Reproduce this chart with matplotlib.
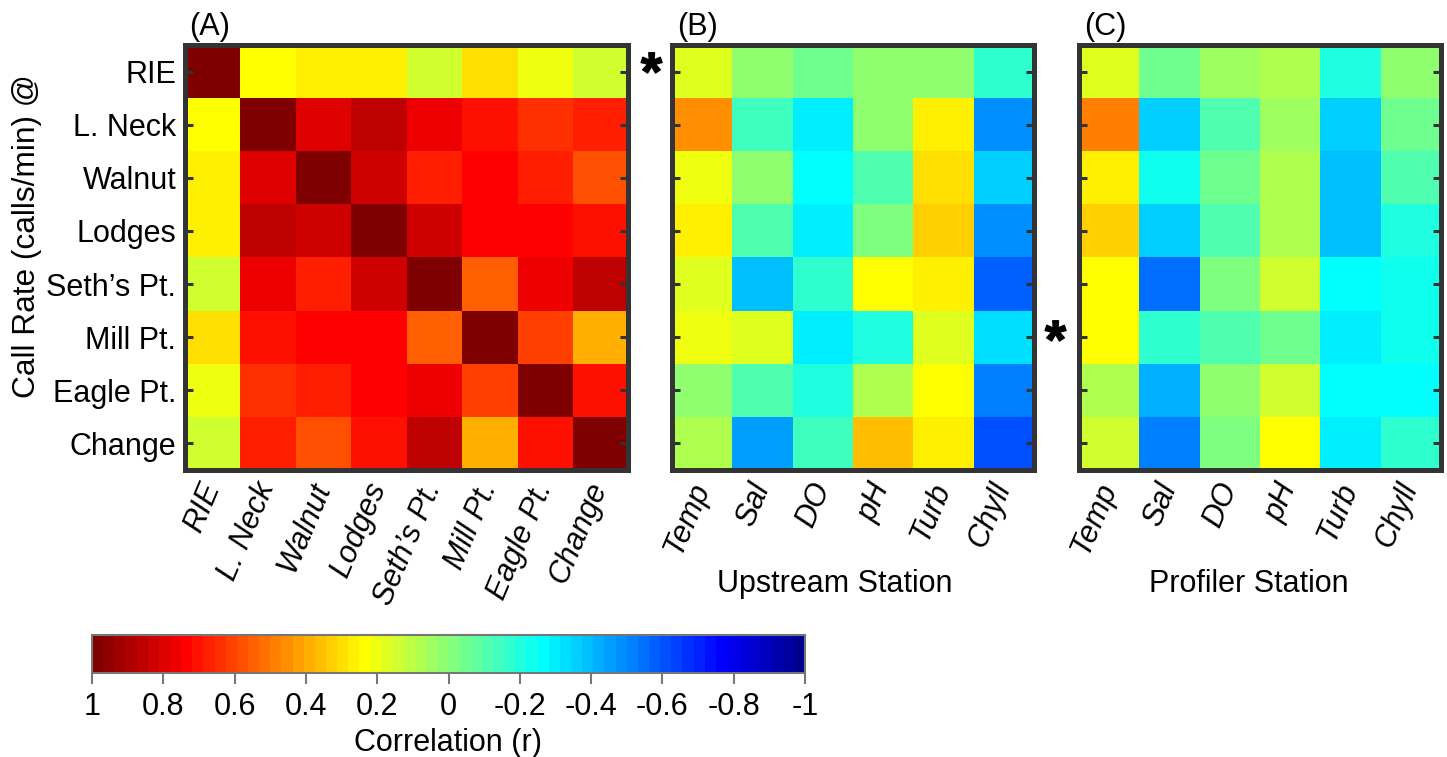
import numpy as np
import matplotlib
matplotlib.use("Agg")
import matplotlib.pyplot as plt
from matplotlib.colors import ListedColormap
from matplotlib.textpath import TextPath
from matplotlib.font_manager import FontProperties
from matplotlib.path import Path
from matplotlib.lines import Line2D

plt.rcParams["font.family"] = ["Liberation Sans", "DejaVu Sans"]

# ---- data ----
sites = ["RIE", "L. Neck", "Walnut", "Lodges", "Seth\u2019s Pt.", "Mill Pt.", "Eagle Pt.", "Change"]
env_vars = ["Temp", "Sal", "DO", "pH", "Turb", "Chyll"]

corr_sites = [
    [1.000, 0.234, 0.266, 0.266, 0.141, 0.297, 0.203, 0.141],
    [0.234, 1.000, 0.797, 0.859, 0.766, 0.703, 0.641, 0.672],
    [0.266, 0.797, 1.000, 0.828, 0.672, 0.734, 0.672, 0.578],
    [0.266, 0.859, 0.828, 1.000, 0.828, 0.734, 0.734, 0.703],
    [0.141, 0.766, 0.672, 0.828, 1.000, 0.547, 0.766, 0.859],
    [0.297, 0.703, 0.734, 0.734, 0.547, 1.000, 0.609, 0.391],
    [0.203, 0.641, 0.672, 0.734, 0.766, 0.609, 1.000, 0.703],
    [0.141, 0.672, 0.578, 0.703, 0.859, 0.391, 0.703, 1.000],
]

corr_upstream = [
    [0.172, 0.016, -0.047, 0.016, 0.016, -0.172],
    [0.453, -0.141, -0.297, 0.016, 0.266, -0.484],
    [0.203, 0.016, -0.266, -0.109, 0.297, -0.359],
    [0.266, -0.109, -0.297, -0.016, 0.328, -0.484],
    [0.172, -0.391, -0.172, 0.234, 0.266, -0.578],
    [0.203, 0.172, -0.297, -0.203, 0.172, -0.328],
    [0.016, -0.109, -0.203, 0.078, 0.234, -0.516],
    [0.078, -0.453, -0.141, 0.359, 0.266, -0.609],
]

corr_profiler = [
    [0.172, -0.047, 0.047, 0.078, -0.203, 0.016],
    [0.484, -0.359, -0.109, 0.047, -0.359, -0.047],
    [0.266, -0.234, -0.047, 0.078, -0.391, -0.109],
    [0.328, -0.359, -0.109, 0.078, -0.391, -0.203],
    [0.234, -0.547, -0.016, 0.141, -0.266, -0.234],
    [0.234, -0.172, -0.109, -0.047, -0.297, -0.234],
    [0.078, -0.422, 0.016, 0.141, -0.266, -0.266],
    [0.141, -0.516, -0.016, 0.234, -0.297, -0.172],
]

cbar_ticks = [1, 0.8, 0.6, 0.4, 0.2, 0, -0.2, -0.4, -0.6, -0.8, -1]
cbar_labels = ["1", "0.8", "0.6", "0.4", "0.2", "0", "-0.2", "-0.4", "-0.6", "-0.8", "-1"]


def matlab_jet(m=64):
    # same construction as MATLAB's jet(m)
    n = int(np.ceil(m / 4))
    u = np.concatenate([np.arange(1, n + 1) / n, np.ones(n - 1), np.arange(n, 0, -1) / n])
    g = int(np.ceil(n / 2)) - (1 if m % 4 == 1 else 0) + np.arange(1, len(u) + 1)
    r = g + n
    b = g - n
    J = np.zeros((m, 3))
    J[r[r <= m] - 1, 0] = u[r <= m]
    J[g[g <= m] - 1, 1] = u[g <= m]
    J[b[b >= 1] - 1, 2] = u[b >= 1]
    return ListedColormap(J)


cmap = matlab_jet(64)
W, H = 1447, 757
FS = 22
FRAME = "#333333"


def fx(px):
    return px / W


def fy(py):
    return 1 - py / H


fig = plt.figure(figsize=(W / 100, H / 100), dpi=100)


def heat(rect, data, xlabels, ylabels=None):
    ax = fig.add_axes(rect)
    im = ax.imshow(np.array(data), cmap=cmap, vmin=-1, vmax=1, aspect="auto",
                   interpolation="nearest")
    ncol = len(xlabels)
    ax.set_xticks(range(ncol))
    ax.set_xticklabels(xlabels, rotation=67, ha="right", va="center",
                       rotation_mode="anchor", fontstyle="italic", fontsize=FS)
    ax.tick_params(axis="x", which="major", length=0, pad=10)
    ax.set_xticks(range(1, ncol, 2), minor=True)
    ax.tick_params(axis="x", which="minor", direction="in", length=6, width=2.2,
                   top=True, bottom=True, color=FRAME)
    ax.set_yticks(range(len(sites)))
    if ylabels is not None:
        ax.set_yticklabels(ylabels, fontsize=FS)
    else:
        ax.set_yticklabels([])
    ax.tick_params(axis="y", direction="in", length=6, width=2.2, left=True,
                   right=True, color=FRAME, pad=6)
    for s in ax.spines.values():
        s.set_linewidth(3.6)
        s.set_color(FRAME)
    return ax, im


axA, im = heat([fx(184.5), fy(470), fx(443), 425 / H], corr_sites, sites, sites)
axB, _ = heat([fx(671.5), fy(470), fx(362), 425 / H], corr_upstream, env_vars)
axC, _ = heat([fx(1078.5), fy(470), fx(362), 425 / H], corr_profiler, env_vars)

# panel letters
fig.text(fx(189), fy(35), "(A)", fontsize=FS, ha="left", va="baseline")
fig.text(fx(677), fy(35), "(B)", fontsize=FS, ha="left", va="baseline")
fig.text(fx(1084), fy(35), "(C)", fontsize=FS, ha="left", va="baseline")

fig.text(fx(27), fy(236), "Call Rate (calls/min) @", rotation=90, fontsize=22.8,
         ha="center", va="center")
fig.text(fx(835), fy(584), "Upstream Station", fontsize=FS, ha="center", va="center")
fig.text(fx(1249), fy(584), "Profiler Station", fontsize=FS, ha="center", va="center")

# significance asterisks
tp = TextPath((0, 0), "*", prop=FontProperties(family="Liberation Sans", weight="bold"))
v = tp.vertices.copy()
v -= (v.min(axis=0) + v.max(axis=0)) / 2
star = Path(v, tp.codes)
for (sx, sy) in [(651, 71), (1055, 339)]:
    fig.add_artist(Line2D([fx(sx)], [fy(sy)], transform=fig.transFigure, marker=star,
                          markersize=27, color="black", linestyle="none"))

# colorbar
cax = fig.add_axes([fx(92), fy(673), fx(713), 38 / H])
cb = fig.colorbar(im, cax=cax, orientation="horizontal")
cax.invert_xaxis()
cb.set_ticks(cbar_ticks, labels=cbar_labels)
cax.tick_params(direction="out", length=8, width=1.5, color="#777777", pad=6,
                labelsize=FS)
cb.outline.set_edgecolor("#777777")
cb.outline.set_linewidth(1.5)
cb.set_label("Correlation (r)", fontsize=FS, labelpad=4)

fig.savefig("out.png", dpi=100)
